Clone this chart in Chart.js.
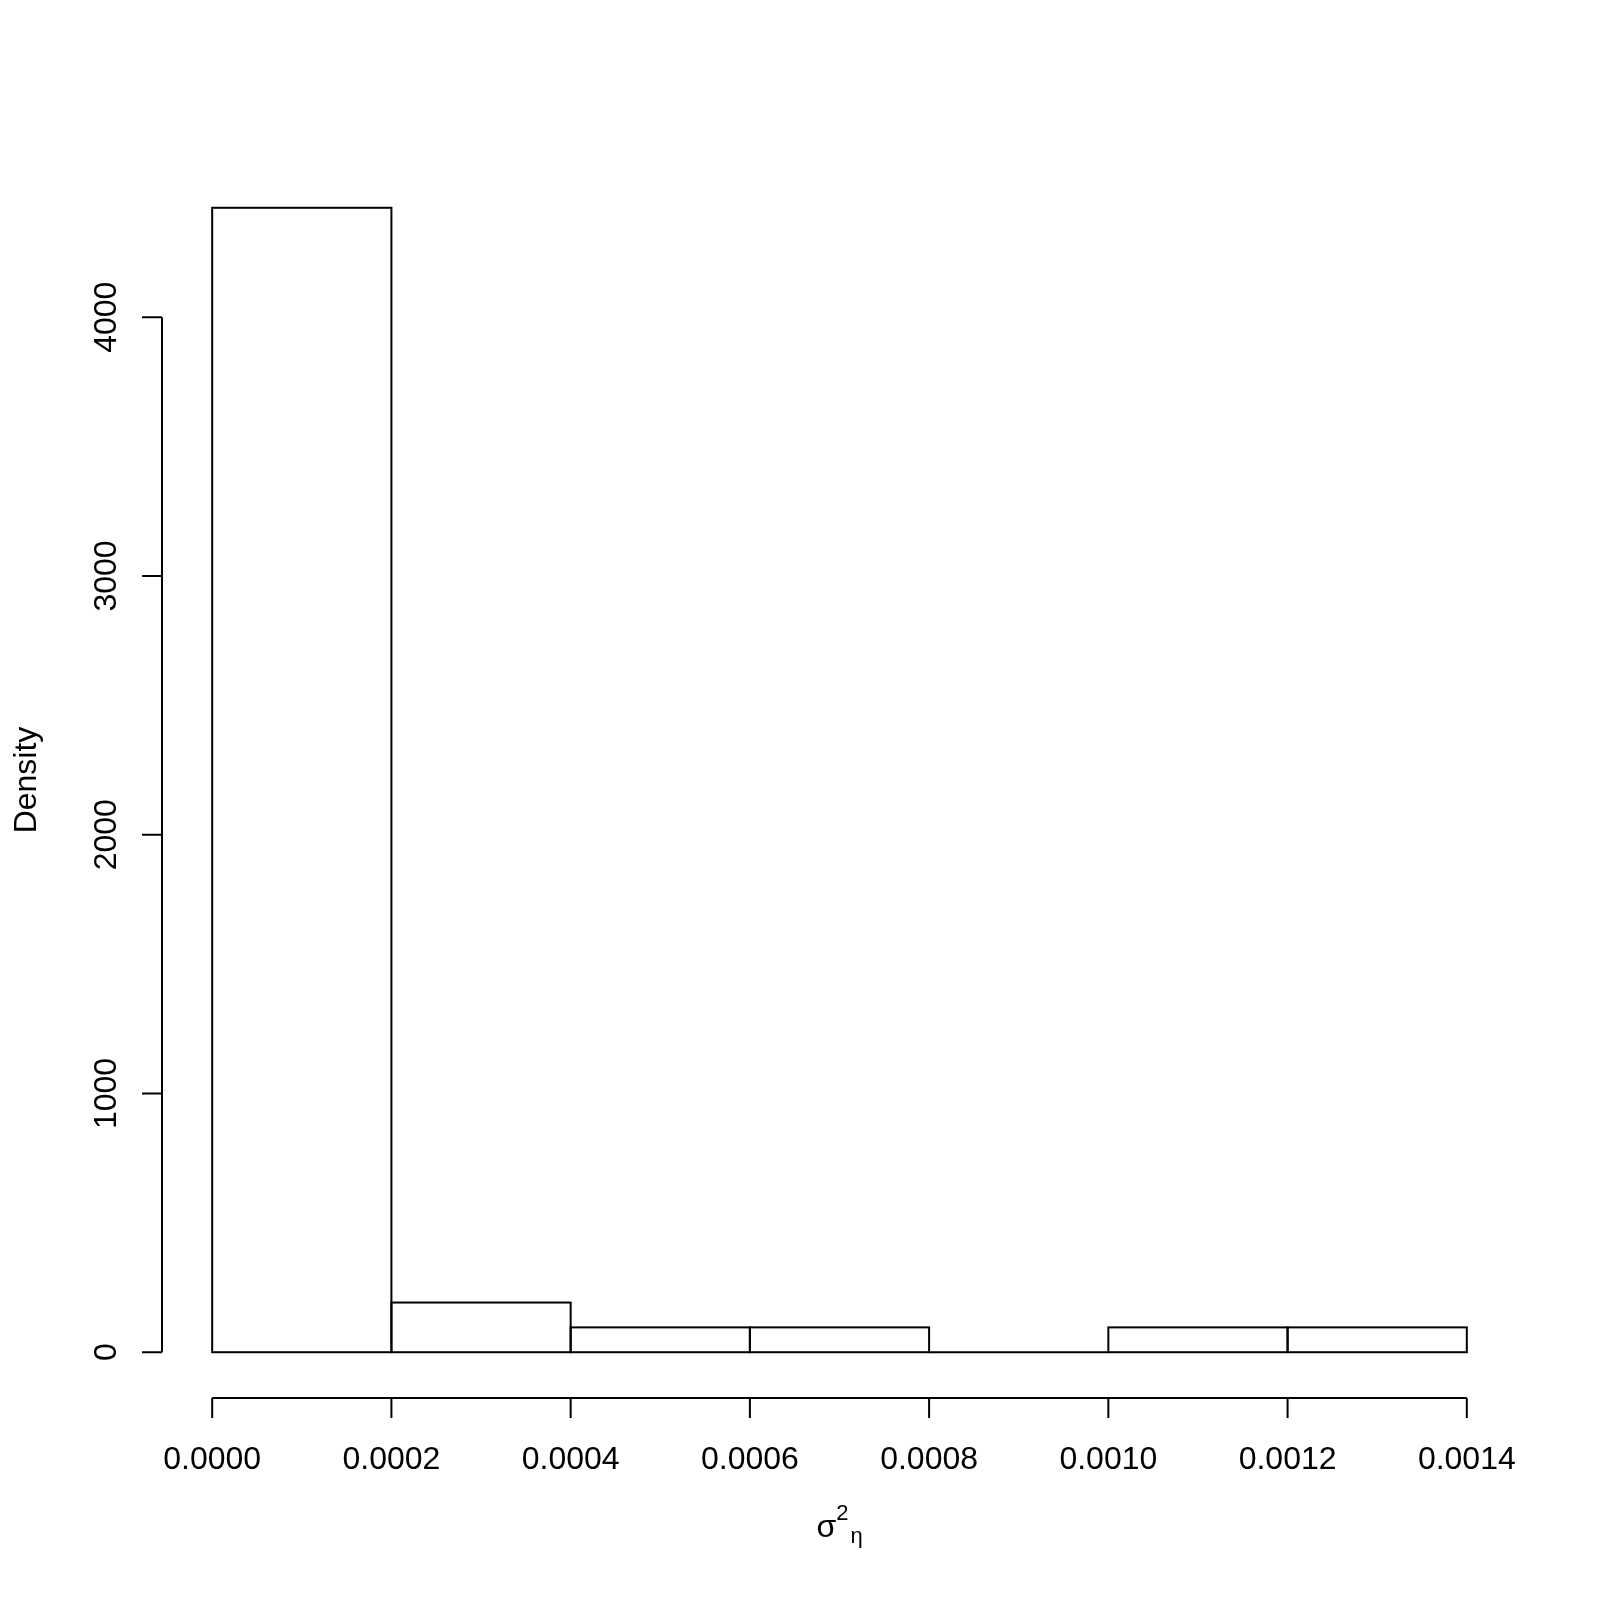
<!DOCTYPE html>
<html>
<head>
<meta charset="utf-8">
<script src="https://cdn.jsdelivr.net/npm/chart.js@4"></script>
<style>
  body { margin: 0; background: #fff; }
  canvas { display: block; }
</style>
</head>
<body>
<canvas id="chart" width="1600" height="1600"></canvas>
<script>
// -------------------- DATA --------------------
const breaks = [0, 0.0002, 0.0004, 0.0006, 0.0008, 0.0010, 0.0012, 0.0014];
const density = [4423, 192, 96, 96, 0, 96, 96];
const xTicks = [0, 0.0002, 0.0004, 0.0006, 0.0008, 0.0010, 0.0012, 0.0014];
const xTickLabels = ["0.0000", "0.0002", "0.0004", "0.0006", "0.0008", "0.0010", "0.0012", "0.0014"];
const yTicks = [0, 1000, 2000, 3000, 4000];
const yTickLabels = ["0", "1000", "2000", "3000", "4000"];
const yTitle = "Density";

const FONT = '"Liberation Sans", Arial, sans-serif';

// bin midpoints -> bar data
const bars = density.map((d, i) => ({ x: (breaks[i] + breaks[i + 1]) / 2, y: d }));

// R style 4% range extension
const xSpan = breaks[breaks.length - 1] - breaks[0];
const yTop = Math.max(...density);

// -------------------- BAR OUTLINES (R hist style, shared edges drawn once) --------------------
const barOutline = {
  id: "barOutline",
  afterDatasetsDraw(chart) {
    const c = chart.ctx;
    const meta = chart.getDatasetMeta(0);
    c.save();
    c.strokeStyle = "#000";
    c.lineWidth = 2;
    meta.data.forEach(bar => {
      const p = bar.getProps(["x", "y", "base", "width"], true);
      c.strokeRect(p.x - p.width / 2, p.y, p.width, p.base - p.y);
    });
    c.restore();
  }
};

// -------------------- R STYLE AXES --------------------
const rAxes = {
  id: "rAxes",
  afterDraw(chart) {
    const c = chart.ctx;
    const xs = chart.scales.x, ys = chart.scales.y;
    const area = chart.chartArea;
    c.save();
    c.strokeStyle = "#000";
    c.fillStyle = "#000";
    c.lineWidth = 2;

    // y axis
    const ax = area.left;
    c.beginPath();
    c.moveTo(ax, ys.getPixelForValue(yTicks[0]));
    c.lineTo(ax, ys.getPixelForValue(yTicks[yTicks.length - 1]));
    yTicks.forEach(v => {
      const py = ys.getPixelForValue(v);
      c.moveTo(ax, py);
      c.lineTo(ax - 20, py);
    });
    c.stroke();
    c.font = "32px " + FONT;
    c.textAlign = "center";
    c.textBaseline = "alphabetic";
    yTicks.forEach((v, i) => {
      c.save();
      c.translate(ax - 46, ys.getPixelForValue(v));
      c.rotate(-Math.PI / 2);
      c.fillText(yTickLabels[i], 0, 0);
      c.restore();
    });

    // x axis
    const ay = area.bottom;
    c.beginPath();
    c.moveTo(xs.getPixelForValue(xTicks[0]), ay);
    c.lineTo(xs.getPixelForValue(xTicks[xTicks.length - 1]), ay);
    xTicks.forEach(v => {
      const px = xs.getPixelForValue(v);
      c.moveTo(px, ay);
      c.lineTo(px, ay + 20);
    });
    c.stroke();
    xTicks.forEach((v, i) => {
      c.fillText(xTickLabels[i], xs.getPixelForValue(v), ay + 71);
    });

    // y title
    c.save();
    c.translate(36, (area.top + area.bottom) / 2);
    c.rotate(-Math.PI / 2);
    c.fillText(yTitle, 0, 0);
    c.restore();

    // x title: sigma^2 [eta]
    c.textAlign = "left";
    c.font = "32px " + FONT;
    const wS = c.measureText("σ").width;
    c.font = "22px " + FONT;
    const w2 = c.measureText("2").width;
    const wE = c.measureText("η").width;
    const total = wS + w2 + 2 + wE;
    let tx = (area.left + area.right) / 2 - total / 2;
    c.font = "32px " + FONT;
    c.fillText("σ", tx, ay + 139);
    tx += wS;
    c.font = "22px " + FONT;
    c.fillText("2", tx, ay + 122);
    tx += w2 + 2;
    c.fillText("η", tx, ay + 145);

    c.restore();
  }
};

// -------------------- CHART --------------------
const ctx = document.getElementById("chart").getContext("2d");
new Chart(ctx, {
  type: "bar",
  data: {
    datasets: [{
      data: bars,
      backgroundColor: "#ffffff",
      borderWidth: 0,
      barPercentage: 1,
      categoryPercentage: 1,
      inflateAmount: 0
    }]
  },
  options: {
    responsive: false,
    animation: false,
    devicePixelRatio: 1,
    layout: { padding: { left: 162, top: 162, right: 83, bottom: 202 } },
    plugins: { legend: { display: false }, tooltip: { enabled: false } },
    scales: {
      x: {
        type: "linear",
        display: false,
        offset: false,
        min: breaks[0] - 0.04 * xSpan,
        max: breaks[breaks.length - 1] + 0.04 * xSpan,
        ticks: { stepSize: 0.0002, includeBounds: false }
      },
      y: {
        type: "linear",
        display: false,
        min: -0.04 * yTop,
        max: 1.04 * yTop
      }
    }
  },
  plugins: [barOutline, rAxes]
});
</script>
</body>
</html>
